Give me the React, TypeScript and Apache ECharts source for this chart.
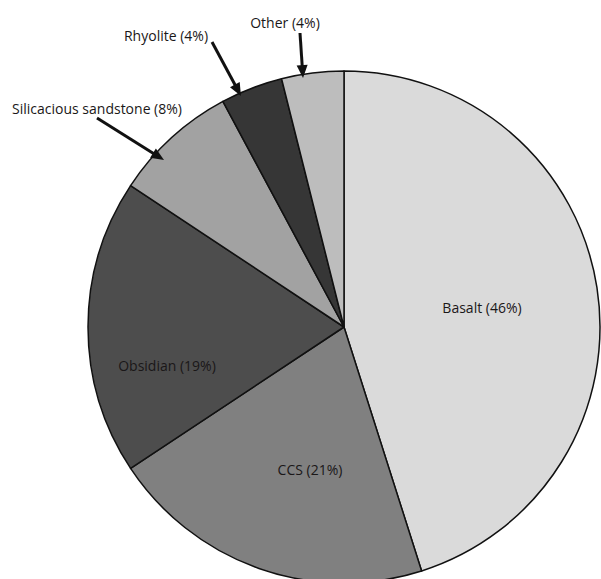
import React, { useEffect, useRef } from "react";
import * as echarts from "echarts";

const categories = ["Basalt", "CCS", "Obsidian", "Silicacious sandstone", "Rhyolite", "Other"];
const values = [46, 21, 19, 8, 4, 4];
const colors = ["#dadada", "#808080", "#4d4d4d", "#a2a2a2", "#363636", "#bdbdbd"];
// label anchor positions (centre of text)
const labelPos: [number, number][] = [
  [482, 307],
  [310, 469],
  [167, 365],
  [97, 108],
  [166, 35],
  [285, 22],
];
// arrows: [startX, startY, tipX, tipY]
const arrows: [number, number, number, number][] = [
  [97, 118, 164, 160],
  [212, 42, 241, 96],
  [300, 33, 303, 78],
];

function arrowGraphics() {
  const out: any[] = [];
  arrows.forEach(([x1, y1, x2, y2]) => {
    const dx = x2 - x1, dy = y2 - y1;
    const len = Math.sqrt(dx * dx + dy * dy);
    const ux = dx / len, uy = dy / len;
    const nx = -uy, ny = ux;
    const L = 13, W = 11;
    const bx = x2 - ux * L, by = y2 - uy * L;
    out.push({
      type: "line",
      shape: { x1, y1, x2: bx + ux * 2, y2: by + uy * 2 },
      style: { stroke: "#111", lineWidth: 3 },
      z: 100,
    });
    out.push({
      type: "polygon",
      shape: { points: [[x2, y2], [bx + nx * W / 2, by + ny * W / 2], [bx - nx * W / 2, by - ny * W / 2]] },
      style: { fill: "#111" },
      z: 100,
    });
  });
  return out;
}

export default function App() {
  const ref = useRef<HTMLDivElement>(null);
  useEffect(() => {
    document.body.style.margin = "0";
    const chart = echarts.init(ref.current!, null, { renderer: "svg" });
    chart.setOption({
      animation: false,
      backgroundColor: "#ffffff",
      series: [
        {
          type: "pie",
          center: [344, 327],
          radius: 256,
          startAngle: 90,
          clockwise: true,
          avoidLabelOverlap: false,
          silent: true,
          itemStyle: { borderColor: "#111", borderWidth: 1.5 },
          label: {
            show: true,
            position: "inside",
            fontFamily: "Open Sans",
            fontSize: 14,
            color: "#1a1718",
            formatter: (p: any) => `${p.name} (${p.value}%)`,
          },
          labelLine: { show: false },
          labelLayout: (p: any) => ({
            x: labelPos[p.dataIndex][0],
            y: labelPos[p.dataIndex][1],
            align: "center",
            verticalAlign: "middle",
          }),
          data: categories.map((c, i) => ({
            name: c,
            value: values[i],
            itemStyle: { color: colors[i] },
          })),
        },
      ],
      graphic: arrowGraphics(),
    });
    return () => chart.dispose();
  }, []);
  return <div ref={ref} style={{ width: 601, height: 579 }} />;
}
